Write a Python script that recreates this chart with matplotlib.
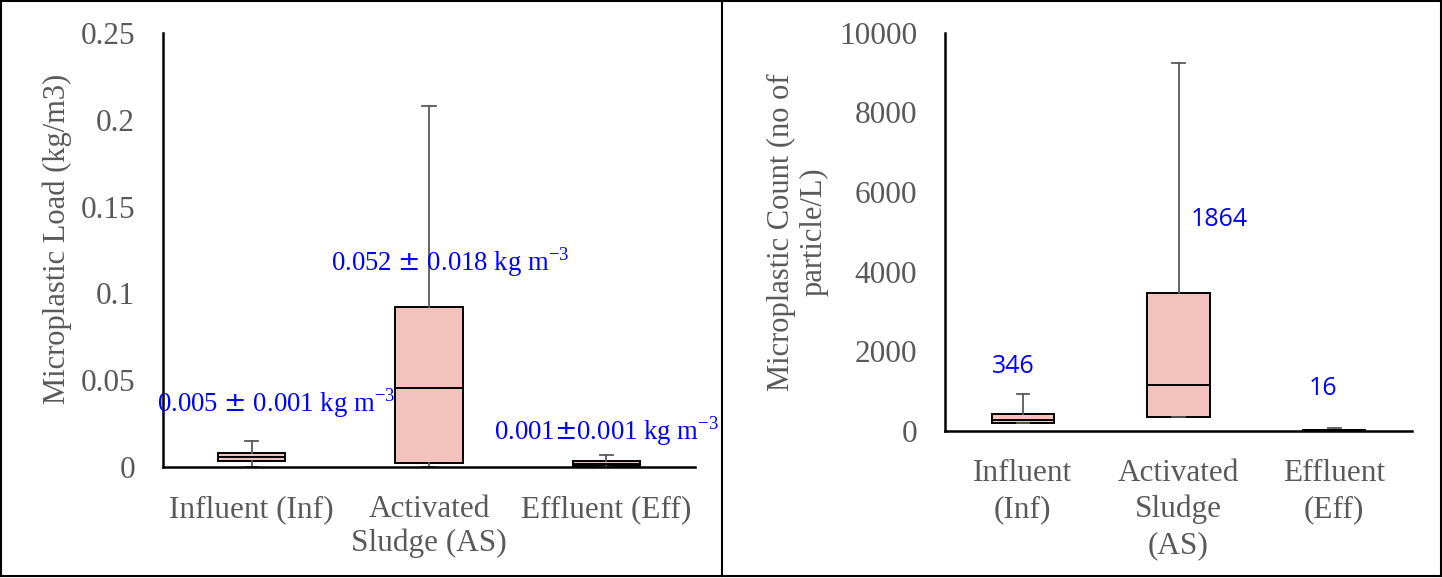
import matplotlib.pyplot as plt
from matplotlib.lines import Line2D

plt.rcParams['font.family'] = ['Liberation Serif', 'DejaVu Serif']

# left panel: microplastic load (kg/m3)
load_labels = ["Influent (Inf)", "Activated\nSludge (AS)", "Effluent (Eff)"]
load_lo = [0.0, 0.0, 0.0]
load_q1 = [0.0035, 0.0023, 0.0005]
load_med = [0.006, 0.0455, 0.0015]
load_q3 = [0.008, 0.092, 0.0035]
load_hi = [0.015, 0.208, 0.007]
load_notes = ["0.005 $\\pm$ 0.001 kg m$^{\\mathregular{-3}}$",
              "0.052 $\\pm$ 0.018 kg m$^{\\mathregular{-3}}$",
              "0.001$\\pm$0.001 kg m$^{\\mathregular{-3}}$"]
load_ticks = [0, 0.05, 0.1, 0.15, 0.2, 0.25]
load_ticklabels = ["0", "0.05", "0.1", "0.15", "0.2", "0.25"]

# right panel: microplastic count (particles/L)
count_labels = ["Influent\n(Inf)", "Activated\nSludge\n(AS)", "Effluent\n(Eff)"]
count_lo = [200, 350, 5]
count_q1 = [200, 350, 5]
count_med = [276, 1155, 15]
count_q3 = [427, 3465, 30]
count_hi = [929, 9240, 75]
count_notes = ["346", "1864", "16"]
count_ticks = [0, 2000, 4000, 6000, 8000, 10000]

face = "#f4c2bc"
grey = "#595959"


def stats(lo, q1, med, q3, hi):
    return [dict(whislo=a, q1=b, med=c, q3=d, whishi=e, fliers=[])
            for a, b, c, d, e in zip(lo, q1, med, q3, hi)]


def draw(ax, st, width):
    ax.bxp(st, positions=[1, 2, 3], widths=width, patch_artist=True,
           showfliers=False, capwidths=width * 0.2,
           boxprops=dict(facecolor=face, edgecolor="black", linewidth=1.4),
           medianprops=dict(color="black", linewidth=1.4),
           whiskerprops=dict(color=grey, linewidth=1.3),
           capprops=dict(color=grey, linewidth=1.3))
    ax.set_xlim(0.5, 3.5)
    for s in ["top", "right"]:
        ax.spines[s].set_visible(False)
    for s in ["left", "bottom"]:
        ax.spines[s].set_linewidth(1.8)
    ax.tick_params(axis="y", length=0, labelsize=22.5, labelcolor=grey, pad=20)
    ax.tick_params(axis="x", length=0, labelsize=22.5, labelcolor=grey, pad=20)


fig = plt.figure(figsize=(14.42, 5.78), dpi=100)

ax1 = fig.add_axes([0.113, 0.192, 0.369, 0.751])
draw(ax1, stats(load_lo, load_q1, load_med, load_q3, load_hi), 0.38)
ax1.set_ylim(0, 0.25)
ax1.set_yticks(load_ticks, load_ticklabels)
ax1.set_xticks([1, 2, 3], load_labels, linespacing=1.2)
ax1.set_ylabel("Microplastic Load (kg/m3)", fontsize=22, color=grey)
ax1.yaxis.set_label_coords(-0.171, 0.525)
note_x = [1.14, 2.12, 3.0]
note_y = [0.037, 0.118, 0.021]
for x, y, t in zip(note_x, note_y, load_notes):
    ax1.text(x, y, t, color="blue", fontsize=19.3, ha="center", va="center")

ax2 = fig.add_axes([0.6553, 0.2543, 0.324, 0.689])
draw(ax2, stats(count_lo, count_q1, count_med, count_q3, count_hi), 0.4)
ax2.set_ylim(0, 10000)
ax2.set_yticks(count_ticks)
ax2.set_xticks([1, 2, 3], count_labels, linespacing=1.32)
ax2.set_ylabel("Microplastic Count (no of\nparticle/L)", fontsize=22, color=grey,
               linespacing=1.15)
ax2.yaxis.set_label_coords(-0.25, 0.5)
note_x = [0.94, 2.26, 2.93]
note_y = [1630, 5320, 1080]
for x, y, t in zip(note_x, note_y, count_notes):
    ax2.text(x, y, t, color="blue", fontsize=18, ha="center", va="center",
             family=["Open Sans", "DejaVu Sans"])

# panel borders
for xs, ys in [([0.001, 0.999], [0.998, 0.998]), ([0.001, 0.999], [0.003, 0.003]),
               ([0.001, 0.001], [0.003, 0.998]), ([0.999, 0.999], [0.003, 0.998]),
               ([0.5007, 0.5007], [0.003, 0.998])]:
    fig.add_artist(Line2D(xs, ys, color="black", linewidth=1.5))

fig.savefig("out.png", dpi=100)
